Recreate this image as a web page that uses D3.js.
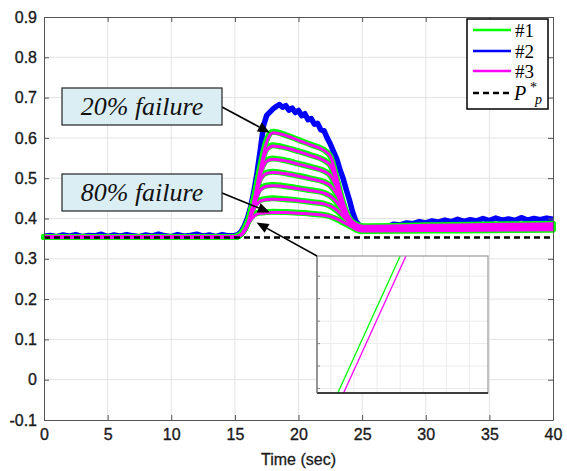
<!DOCTYPE html>
<html>
<head>
<meta charset="utf-8">
<script src="https://cdn.jsdelivr.net/npm/d3@7"></script>
<style>
body { margin: 0; background: #fff; }
svg { display: block; }
</style>
</head>
<body>
<svg id="chart" width="567" height="471"></svg>
<script>
// ---- data ----
var xTicks = [0, 5, 10, 15, 20, 25, 30, 35, 40];
var yTicks = [-0.1, 0, 0.1, 0.2, 0.3, 0.4, 0.5, 0.6, 0.7, 0.8, 0.9];
var yTickLabels = ["-0.1", "0", "0.1", "0.2", "0.3", "0.4", "0.5", "0.6", "0.7", "0.8", "0.9"];

var pStar = 0.353;

// sample times shared by the #1 / #3 curves
var timeA = [0, 15, 15.5, 16, 16.5, 17, 17.5, 18, 19, 20, 21, 22, 22.5, 23, 23.5, 24, 24.5, 25, 30, 35, 40];

// #1 (one curve per failure level, 20% .. 80%)
var series1 = [
  [0.354,0.354,0.362,0.390,0.450,0.530,0.595,0.615,0.607,0.595,0.583,0.570,0.555,0.500,0.440,0.400,0.386,0.381,0.383,0.385,0.387],
  [0.354,0.354,0.362,0.390,0.450,0.525,0.573,0.582,0.576,0.567,0.557,0.545,0.532,0.490,0.435,0.398,0.384,0.379,0.381,0.383,0.385],
  [0.354,0.354,0.362,0.390,0.450,0.515,0.545,0.549,0.544,0.536,0.528,0.518,0.507,0.475,0.430,0.396,0.382,0.377,0.379,0.381,0.383],
  [0.354,0.354,0.362,0.390,0.448,0.500,0.514,0.516,0.512,0.506,0.499,0.491,0.482,0.460,0.425,0.394,0.380,0.375,0.377,0.379,0.380],
  [0.354,0.354,0.362,0.390,0.440,0.475,0.482,0.483,0.480,0.475,0.470,0.464,0.456,0.440,0.415,0.392,0.378,0.373,0.375,0.376,0.378],
  [0.354,0.354,0.362,0.390,0.430,0.446,0.449,0.450,0.448,0.445,0.441,0.437,0.431,0.420,0.405,0.389,0.376,0.371,0.372,0.374,0.375],
  [0.354,0.354,0.362,0.390,0.410,0.415,0.416,0.417,0.416,0.414,0.412,0.409,0.405,0.398,0.390,0.382,0.373,0.369,0.370,0.371,0.372]
];

// #3
var series3 = [
  [0.354,0.354,0.360,0.385,0.442,0.522,0.590,0.613,0.606,0.594,0.582,0.569,0.555,0.502,0.442,0.401,0.386,0.381,0.383,0.385,0.387],
  [0.354,0.354,0.360,0.385,0.442,0.517,0.569,0.580,0.575,0.566,0.556,0.544,0.532,0.492,0.437,0.399,0.384,0.379,0.381,0.383,0.385],
  [0.354,0.354,0.360,0.385,0.442,0.508,0.542,0.547,0.543,0.535,0.527,0.517,0.507,0.477,0.432,0.397,0.382,0.377,0.379,0.381,0.383],
  [0.354,0.354,0.360,0.385,0.440,0.494,0.512,0.514,0.511,0.505,0.498,0.490,0.482,0.461,0.427,0.395,0.380,0.375,0.377,0.379,0.380],
  [0.354,0.354,0.360,0.385,0.433,0.470,0.480,0.481,0.479,0.474,0.469,0.463,0.456,0.441,0.417,0.393,0.378,0.373,0.375,0.376,0.378],
  [0.354,0.354,0.360,0.385,0.424,0.443,0.447,0.448,0.447,0.444,0.440,0.436,0.431,0.421,0.406,0.390,0.376,0.371,0.372,0.374,0.375],
  [0.354,0.354,0.360,0.385,0.406,0.413,0.414,0.415,0.415,0.413,0.411,0.408,0.405,0.399,0.391,0.383,0.373,0.369,0.370,0.371,0.372]
];

// #2 (noisy measured response)
var timeB = [
  0,0.5,1,1.5,2,2.5,3,3.5,4,4.5,5,5.5,6,6.5,7,7.5,8,8.5,9,9.5,10,10.5,11,11.5,12,12.5,13,13.5,14,14.5,15,
  15.25,15.5,15.75,16,16.25,16.5,16.75,17,17.25,17.5,17.75,18,18.25,18.5,18.75,19,19.25,19.5,19.75,20,
  20.25,20.5,20.75,21,21.25,21.5,21.75,22,22.25,22.5,22.75,23,23.25,23.5,23.75,24,24.25,24.5,24.75,25,
  25.5,26,26.5,27,27.5,28,28.5,29,29.5,30,30.5,31,31.5,32,32.5,33,33.5,34,34.5,35,35.5,36,36.5,37,37.5,38,38.5,39,39.5,40
];
var series2 = [
  0.356,0.358,0.355,0.359,0.356,0.360,0.355,0.358,0.357,0.361,0.355,0.359,0.356,0.360,0.357,0.355,0.359,0.356,0.361,0.357,0.355,0.360,0.356,0.358,0.361,0.356,0.359,0.355,0.360,0.357,0.358,
  0.360,0.368,0.382,0.402,0.430,0.468,0.515,0.570,0.630,0.656,0.664,0.672,0.678,0.683,0.676,0.680,0.669,0.674,0.663,0.668,
  0.655,0.660,0.645,0.648,0.634,0.636,0.620,0.618,0.600,0.585,0.566,0.548,0.522,0.500,0.472,0.446,0.416,0.394,0.384,0.380,
  0.378,0.379,0.377,0.380,0.386,0.384,0.389,0.387,0.392,0.389,0.394,0.391,0.396,0.392,0.398,0.393,0.397,0.394,0.400,0.395,0.401,0.396,0.399,0.395,0.402,0.396,0.400,0.397,0.401,0.398
];

// zoomed inset
var insetXTicks = [16.0, 16.1, 16.2, 16.3, 16.4, 16.5, 16.6];
var insetYTicks = [0.40, 0.41, 0.42, 0.43, 0.44, 0.45];
var insetLine1 = [[16.03, 0.398], [16.30, 0.459]];
var insetLine3 = [[16.055, 0.398], [16.325, 0.459]];

var legendLabels = ["#1", "#2", "#3"];
var colors = {s1: "#00ff00", s2: "#0000ff", s3: "#ff00ff"};

// ---- chart ----
var svg = d3.select("#chart");
var x = d3.scaleLinear().domain([0, 40]).range([44, 553]);
var y = d3.scaleLinear().domain([-0.1, 0.9]).range([420, 17]);

var axisFont = "'Liberation Sans', Arial, sans-serif";
var serif = "'Liberation Serif', 'Times New Roman', serif";

// grid
svg.append("g").selectAll("line")
  .data(xTicks.slice(1, -1)).enter().append("line")
  .attr("x1", d => x(d)).attr("x2", d => x(d))
  .attr("y1", y(0.9)).attr("y2", y(-0.1))
  .attr("stroke", "#e3e3e3").attr("stroke-width", 1);
svg.append("g").selectAll("line")
  .data(yTicks.slice(1, -1)).enter().append("line")
  .attr("x1", x(0)).attr("x2", x(40))
  .attr("y1", d => y(d)).attr("y2", d => y(d))
  .attr("stroke", "#e3e3e3").attr("stroke-width", 1);

var lineA = d3.line()
  .curve(d3.curveMonotoneX)
  .x(function(d, i) { return x(timeA[i]); })
  .y(function(d) { return y(d); });

var lineB = d3.line()
  .x(function(d, i) { return x(timeB[i]); })
  .y(function(d) { return y(d); });

// #2
svg.append("path")
  .attr("d", lineB(series2))
  .attr("fill", "none")
  .attr("stroke", colors.s2)
  .attr("stroke-width", 5.5)
  .attr("stroke-linejoin", "round");

// #1
svg.append("g").selectAll("path")
  .data(series1).enter().append("path")
  .attr("d", d => lineA(d))
  .attr("fill", "none")
  .attr("stroke", colors.s1)
  .attr("stroke-width", 6)
  .attr("stroke-linecap", "round");

// #3
svg.append("g").selectAll("path")
  .data(series3).enter().append("path")
  .attr("d", d => lineA(d))
  .attr("fill", "none")
  .attr("stroke", colors.s3)
  .attr("stroke-width", 3);

// P*p
svg.append("line")
  .attr("x1", x(0)).attr("x2", x(40))
  .attr("y1", y(pStar)).attr("y2", y(pStar))
  .attr("stroke", "#000")
  .attr("stroke-width", 2.5)
  .attr("stroke-dasharray", "6,4");

// axes box + inward ticks
var axisColor = "#555";
var xAxis = d3.axisBottom(x).tickValues(xTicks).tickSize(-5).tickSizeOuter(0).tickPadding(9)
  .tickFormat(d3.format("d"));
var yAxis = d3.axisLeft(y).tickValues(yTicks).tickSize(-5).tickSizeOuter(0).tickPadding(7)
  .tickFormat(function(d, i) { return yTickLabels[i]; });

svg.append("g").attr("transform", "translate(0," + y(-0.1) + ")").call(xAxis);
svg.append("g").attr("transform", "translate(" + x(0) + ",0)").call(yAxis);
svg.append("g").attr("transform", "translate(0," + y(0.9) + ")")
  .call(d3.axisTop(x).tickValues(xTicks).tickSize(-5).tickSizeOuter(0).tickFormat(""));
svg.append("g").attr("transform", "translate(" + x(40) + ",0)")
  .call(d3.axisRight(y).tickValues(yTicks).tickSize(-5).tickSizeOuter(0).tickFormat(""));

svg.selectAll(".domain").attr("stroke", axisColor);
svg.selectAll(".tick line").attr("stroke", axisColor);
svg.selectAll(".tick text")
  .attr("font-family", axisFont)
  .attr("font-size", "16px")
  .attr("fill", "#1a1a1a")
  .attr("stroke", "#1a1a1a")
  .attr("stroke-width", 0.35);

svg.append("text")
  .attr("x", (x(0) + x(40)) / 2)
  .attr("y", 465)
  .attr("text-anchor", "middle")
  .attr("font-family", axisFont)
  .attr("font-size", "16px")
  .attr("fill", "#1a1a1a")
  .attr("stroke", "#1a1a1a")
  .attr("stroke-width", 0.3)
  .text("Time (sec)");

// inset
var inset = {left: 317, top: 256, right: 488, bottom: 393};
var ix = d3.scaleLinear().domain([15.94, 16.68]).range([inset.left, inset.right]);
var iy = d3.scaleLinear().domain([0.398, 0.459]).range([inset.bottom, inset.top]);

svg.append("defs").append("clipPath").attr("id", "insetClip")
  .append("rect")
  .attr("x", inset.left).attr("y", inset.top)
  .attr("width", inset.right - inset.left).attr("height", inset.bottom - inset.top);

svg.append("rect")
  .attr("x", inset.left).attr("y", inset.top)
  .attr("width", inset.right - inset.left).attr("height", inset.bottom - inset.top)
  .attr("fill", "#fff");

var ig = svg.append("g");
ig.selectAll(".ivx").data(insetXTicks).enter().append("line")
  .attr("x1", d => ix(d)).attr("x2", d => ix(d))
  .attr("y1", inset.top).attr("y2", inset.bottom)
  .attr("stroke", "#ececec");
ig.selectAll(".ivy").data(insetYTicks).enter().append("line")
  .attr("x1", inset.left).attr("x2", inset.right)
  .attr("y1", d => iy(d)).attr("y2", d => iy(d))
  .attr("stroke", "#ececec");
ig.selectAll(".itk").data(insetYTicks).enter().append("line")
  .attr("x1", inset.left).attr("x2", inset.left + 3)
  .attr("y1", d => iy(d)).attr("y2", d => iy(d))
  .attr("stroke", "#888");

var insetLine = d3.line().x(d => ix(d[0])).y(d => iy(d[1]));
ig.append("path").attr("d", insetLine(insetLine1))
  .attr("clip-path", "url(#insetClip)")
  .attr("fill", "none").attr("stroke", colors.s1).attr("stroke-width", 1.3);
ig.append("path").attr("d", insetLine(insetLine3))
  .attr("clip-path", "url(#insetClip)")
  .attr("fill", "none").attr("stroke", colors.s3).attr("stroke-width", 1.3);

ig.append("rect")
  .attr("x", inset.left).attr("y", inset.top)
  .attr("width", inset.right - inset.left).attr("height", inset.bottom - inset.top)
  .attr("fill", "none").attr("stroke", "#999").attr("stroke-width", 1.2);
ig.append("line")
  .attr("x1", inset.left).attr("x2", inset.right)
  .attr("y1", inset.bottom).attr("y2", inset.bottom)
  .attr("stroke", "#111").attr("stroke-width", 1.5);
ig.append("line")
  .attr("x1", inset.left).attr("x2", inset.left)
  .attr("y1", inset.top).attr("y2", inset.bottom)
  .attr("stroke", "#777").attr("stroke-width", 1.2);

// arrows
function arrow(x1, y1, x2, y2) {
  var dx = x2 - x1, dy = y2 - y1, len = Math.sqrt(dx * dx + dy * dy);
  var ux = dx / len, uy = dy / len, hl = 12, hw = 5;
  var bx = x2 - ux * hl, by = y2 - uy * hl;
  svg.append("line")
    .attr("x1", x1).attr("y1", y1).attr("x2", bx).attr("y2", by)
    .attr("stroke", "#000").attr("stroke-width", 1.6);
  svg.append("path")
    .attr("d", "M" + x2 + "," + y2 +
      "L" + (bx - uy * hw) + "," + (by + ux * hw) +
      "L" + (bx + uy * hw) + "," + (by - ux * hw) + "Z")
    .attr("fill", "#000");
}
arrow(222, 107, x(17.75), y(0.613));
arrow(222, 193, x(17.75), y(0.415));
arrow(inset.left, inset.top, x(16.7), y(0.390));

// annotation boxes
var notes = [
  {text: "20% failure", top: 88},
  {text: "80% failure", top: 174}
];
notes.forEach(function(n) {
  svg.append("rect")
    .attr("x", 62).attr("y", n.top)
    .attr("width", 160).attr("height", 37)
    .attr("fill", "#dbeef4")
    .attr("stroke", "#222").attr("stroke-width", 1.2);
  svg.append("text")
    .attr("x", 142).attr("y", n.top + 27)
    .attr("text-anchor", "middle")
    .attr("font-family", serif)
    .attr("font-style", "italic")
    .attr("font-size", "26px")
    .attr("fill", "#111")
    .text(n.text);
});

// legend
var lg = svg.append("g");
lg.append("rect")
  .attr("x", 467).attr("y", 19).attr("width", 81).attr("height", 90)
  .attr("fill", "#fff").attr("stroke", "#000").attr("stroke-width", 1.5);
var rowY = [30, 51, 71];
var rowColor = [colors.s1, colors.s2, colors.s3];
legendLabels.forEach(function(lab, i) {
  lg.append("line")
    .attr("x1", 473).attr("x2", 511)
    .attr("y1", rowY[i]).attr("y2", rowY[i])
    .attr("stroke", rowColor[i]).attr("stroke-width", 2.5);
  lg.append("text")
    .attr("x", 515).attr("y", rowY[i] + 7)
    .attr("font-family", serif)
    .attr("font-size", "19px")
    .attr("fill", "#000")
    .text(lab);
});
lg.append("line")
  .attr("x1", 473).attr("x2", 511)
  .attr("y1", 93).attr("y2", 93)
  .attr("stroke", "#000").attr("stroke-width", 2.5)
  .attr("stroke-dasharray", "6,4");
var pt = lg.append("text")
  .attr("x", 514).attr("y", 100)
  .attr("font-family", serif)
  .attr("font-size", "20px")
  .attr("font-style", "italic")
  .attr("fill", "#000");
pt.append("tspan").text("P");
pt.append("tspan").attr("x", 530).attr("y", 92).attr("font-size", "14px").attr("font-style", "normal").text("*");
pt.append("tspan").attr("x", 535).attr("y", 104).attr("font-size", "14px").text("p");
</script>
</body>
</html>
